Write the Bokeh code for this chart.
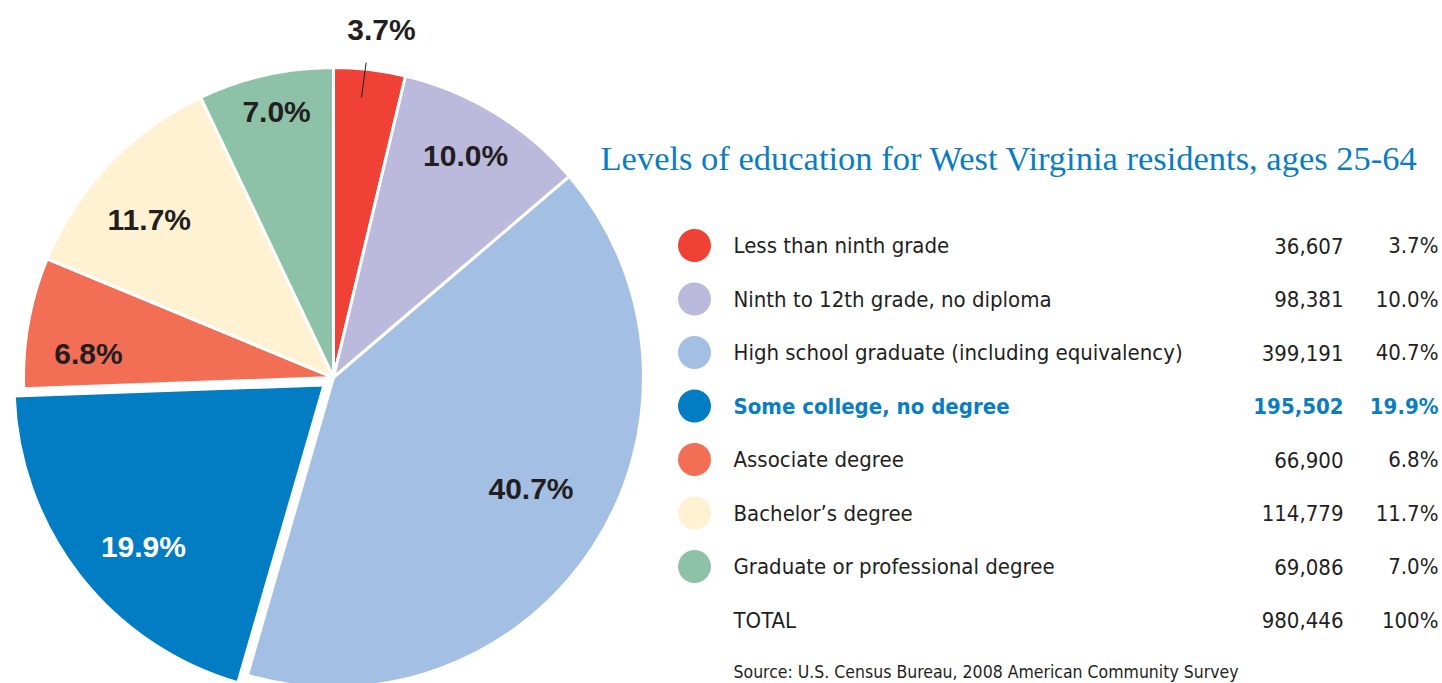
import math
from bokeh.plotting import figure
from bokeh.models import Range1d, ColumnDataSource
from bokeh.core.properties import value
from bokeh.embed import file_html
from bokeh.resources import INLINE

# ---------------- data ----------------
categories = [
    "Less than ninth grade",
    "Ninth to 12th grade, no diploma",
    "High school graduate (including equivalency)",
    "Some college, no degree",
    "Associate degree",
    "Bachelor\u2019s degree",
    "Graduate or professional degree",
]
counts = [36607, 98381, 399191, 195502, 66900, 114779, 69086]
percents = [3.7, 10.0, 40.7, 19.9, 6.8, 11.7, 7.0]
total_count = 980446
total_label = "TOTAL"
total_pct = "100%"
highlight = "Some college, no degree"
title = "Levels of education for West Virginia residents, ages 25-64"
source = "Source: U.S. Census Bureau, 2008 American Community Survey"

colors = ["#EF4136", "#BBB9DC", "#A3BFE4", "#027CC2", "#F26E55", "#FFF2D3", "#8DC2A9"]

# ---------------- layout constants ----------------
W, H = 1442, 683
CX, CY = 333, H - 377
R = 310
EXPLODE = 12
label_r = [1.13, 0.84, 0.72, 0.78, 0.79, 0.78, 0.88]
label_nudge = [(7, 0), (-4, 0), (10, -10), (10, 13), (-4, 19), (-9, 9), (3, 0)]  # screen px
DARK = "#231F20"
BLUE = "#0A7DC2"
COND = "DejaVu Sans Condensed"

p = figure(width=W, height=H, output_backend="svg", toolbar_location=None,
           x_range=Range1d(0, W), y_range=Range1d(0, H), min_border=0)
p.axis.visible = False
p.grid.visible = False
p.outline_line_color = None
p.background_fill_color = "white"

tot = sum(counts)
cum = 0.0
xs, ys, starts, ends, lx, ly, ltxt, lcol = [], [], [], [], [], [], [], []
for i, c in enumerate(counts):
    f0 = cum / tot
    cum += c
    f1 = cum / tot
    a_start = math.pi / 2 - 2 * math.pi * f1
    a_end = math.pi / 2 - 2 * math.pi * f0
    mid = (a_start + a_end) / 2
    cx, cy = CX, CY
    if categories[i] == highlight:
        cx += EXPLODE * math.cos(mid)
        cy += EXPLODE * math.sin(mid)
    xs.append(cx); ys.append(cy); starts.append(a_start); ends.append(a_end)
    lx.append(cx + label_r[i] * R * math.cos(mid) + label_nudge[i][0])
    ly.append(cy + label_r[i] * R * math.sin(mid) - label_nudge[i][1])
    ltxt.append(f"{percents[i]:.1f}%")
    lcol.append("white" if categories[i] == highlight else DARK)

src = ColumnDataSource(dict(x=xs, y=ys, s=starts, e=ends, color=colors))
p.wedge(x="x", y="y", radius=R, start_angle="s", end_angle="e", source=src,
        fill_color="color", line_color="white", line_width=3)

# leader line for the small slice
mid0 = (starts[0] + ends[0]) / 2
p.segment(x0=[CX + 0.91 * R * math.cos(mid0) - 5], y0=[CY + 0.91 * R * math.sin(mid0)],
          x1=[CX + 1.01 * R * math.cos(mid0) - 4], y1=[CY + 1.01 * R * math.sin(mid0) + 4],
          line_color=DARK, line_width=1)

p.text(x=lx, y=ly, text=ltxt, text_color=lcol, text_font=value("Liberation Sans"),
       text_font_style="bold", text_font_size="30px", text_align="center",
       text_baseline="middle")

# title
p.text(x=[600], y=[H - 157], text=[title], text_font=value("Liberation Serif"),
       text_font_size="34.5px", text_color=BLUE, text_align="left",
       text_baseline="alphabetic")

# legend table
row_y = [H - (245 + 53.5 * i) for i in range(len(categories) + 1)]
p.scatter(x=[694] * len(categories), y=row_y[:len(categories)], size=33,
          fill_color=colors, line_color=None)
names = categories + [total_label]
nums = [f"{c:,}" for c in counts] + [f"{total_count:,}"]
pcts = [f"{v:.1f}%" for v in percents] + [total_pct]
tcol = [BLUE if n == highlight else DARK for n in names]
tsty = ["bold" if n == highlight else "normal" for n in names]
tsrc = ColumnDataSource(dict(y=row_y, name=names, num=nums, pct=pcts, col=tcol, sty=tsty))
p.text(x=733, y="y", text="name", source=tsrc, text_color="col", text_font_style="sty",
       text_font=value(COND), text_font_size="22px", text_align="left", text_baseline="middle")
p.text(x=1343, y="y", text="num", source=tsrc, text_color="col", text_font_style="sty",
       text_font=value(COND), text_font_size="22px", text_align="right", text_baseline="middle")
p.text(x=1438, y="y", text="pct", source=tsrc, text_color="col", text_font_style="sty",
       text_font=value(COND), text_font_size="22px", text_align="right", text_baseline="middle")

p.text(x=[733], y=[H - 671], text=[source], text_color=DARK, text_font=value(COND),
       text_font_size="17.5px", text_align="left", text_baseline="middle")

open("out.html", "w").write(file_html(p, INLINE))
